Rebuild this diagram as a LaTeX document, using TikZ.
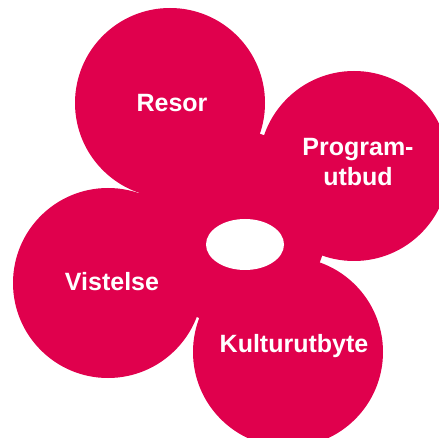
\documentclass[tikz,border=0pt]{standalone}
\usepackage{fontspec}
\newfontfamily\petalfont{Liberation Sans}
\usetikzlibrary{shapes.geometric}
\definecolor{crimson}{RGB}{224,0,77}

\begin{document}
\begin{tikzpicture}[x=1pt,y=-1pt]
\tikzset{petale/.style={circle,fill=crimson,inner sep=0pt,minimum size=190pt},
mot/.style={text=white,font=\petalfont\bfseries\fontsize{25}{30}\selectfont,align=center}}
\useasboundingbox (0,0) rectangle (439,438);
\clip (0,0) rectangle (439,438);

\node[petale] (R) at (170,103) {};
\node[petale] (P) at (354,166) {};
\node[petale] (V) at (108,283) {};
\node[petale] (K) at (288,352) {};

\fill[crimson] (R.center) -- (P.center) -- (K.center) -- (V.center) -- cycle;
\node[ellipse,fill=white,inner sep=0pt,minimum width=78pt,minimum height=51pt] (trou) at (245,244.5) {};

\node[mot] (tR) at (172,103) {Resor};
\node[mot] (tP) at (358,162) {Program-\\utbud};
\node[mot] (tV) at (112,282) {Vistelse};
\node[mot] (tK) at (294,346) {Kulturutbyte};

\end{tikzpicture}
\end{document}
